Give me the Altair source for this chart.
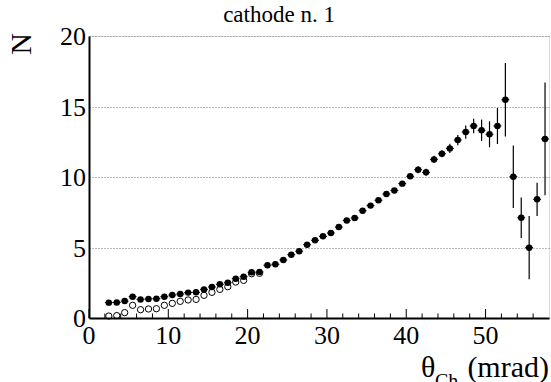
import altair as alt
import pandas as pd

# Bin centres of the Cherenkov-angle histogram (mrad)
theta = [2.5, 3.5, 4.5, 5.5, 6.5, 7.5, 8.5, 9.5, 10.5, 11.5, 12.5, 13.5, 14.5, 15.5,
         16.5, 17.5, 18.5, 19.5, 20.5, 21.5, 22.5, 23.5, 24.5, 25.5, 26.5, 27.5, 28.5,
         29.5, 30.5, 31.5, 32.5, 33.5, 34.5, 35.5, 36.5, 37.5, 38.5, 39.5, 40.5, 41.5,
         42.5, 43.5, 44.5, 45.5, 46.5, 47.5, 48.5, 49.5, 50.5, 51.5, 52.5, 53.5, 54.5,
         55.5, 56.5, 57.5]

# Photon counts per bin (filled markers)
counts = [1.09, 1.10, 1.20, 1.51, 1.32, 1.35, 1.37, 1.51, 1.63, 1.70, 1.80, 1.82, 2.03,
          2.20, 2.39, 2.50, 2.79, 2.93, 3.24, 3.26, 3.74, 3.81, 4.11, 4.49, 4.74, 5.20,
          5.51, 5.79, 6.03, 6.45, 6.92, 7.09, 7.61, 7.97, 8.35, 8.79, 9.05, 9.53, 10.05,
          10.52, 10.33, 11.25, 11.65, 12.03, 12.62, 13.19, 13.62, 13.31, 13.03, 13.62,
          15.48, 10.02, 7.11, 4.99, 8.42, 12.7]

# Statistical errors on the counts
errors = [0.08, 0.08, 0.08, 0.08, 0.08, 0.08, 0.08, 0.08, 0.08, 0.10, 0.10, 0.10, 0.10,
          0.10, 0.10, 0.10, 0.10, 0.10, 0.10, 0.12, 0.12, 0.12, 0.12, 0.12, 0.12, 0.12,
          0.12, 0.12, 0.12, 0.17, 0.17, 0.17, 0.17, 0.17, 0.17, 0.17, 0.17, 0.17, 0.17,
          0.25, 0.25, 0.25, 0.25, 0.32, 0.36, 0.47, 0.52, 0.76, 0.92, 1.28, 2.60, 2.22,
          1.44, 2.25, 1.18, 4.0]

# Background-subtracted counts in the low-angle bins (open markers)
theta_open = theta[:20]
counts_open = [0.14, 0.17, 0.38, 0.90, 0.59, 0.64, 0.66, 0.90, 1.04, 1.18, 1.28, 1.32,
               1.61, 1.82, 2.03, 2.22, 2.55, 2.67, 3.14, 3.17]

major_ticks = [0, 10, 20, 30, 40, 50]
minor_ticks = [2, 4, 6, 8, 12, 14, 16, 18, 22, 24, 26, 28, 32, 34, 36, 38, 42, 44, 46,
               48, 52, 54, 56]
y_ticks = [0, 5, 10, 15, 20]
half_bin = 0.5

W, H = 460, 282
SERIF = "Liberation Serif"

df = pd.DataFrame({"theta": theta, "n": counts, "err": errors})
df["lo"] = df["n"] - df["err"]
df["hi"] = df["n"] + df["err"]
df["xlo"] = df["theta"] - half_bin
df["xhi"] = df["theta"] + half_bin
df_open = pd.DataFrame({"theta": theta_open, "n": counts_open})

xs = alt.Scale(domain=[0, 58], nice=False, zero=False)
ys = alt.Scale(domain=[0, 20], nice=False, zero=False)

# Axes carry only the frame lines and the dotted grid; labels are drawn as text layers
xaxis = alt.Axis(values=major_ticks, title=None, tickSize=0, labels=False,
                 domainColor="black", domainWidth=2, grid=False)
yaxis = alt.Axis(values=y_ticks, title=None, tickSize=0, labels=False,
                 domainColor="black", domainWidth=2, grid=True,
                 gridColor="#777777", gridDash=[1, 2], gridWidth=1)

X = alt.X("theta:Q", scale=xs, axis=xaxis)
Y = alt.Y("n:Q", scale=ys, axis=yaxis)

yerr = alt.Chart(df).mark_rule(color="black", strokeWidth=1.2).encode(
    x=X, y=alt.Y("lo:Q", scale=ys, axis=yaxis), y2="hi:Q")
xerr = alt.Chart(df).mark_rule(color="black", strokeWidth=1).encode(
    x=alt.X("xlo:Q", scale=xs, axis=xaxis), x2="xhi:Q", y=Y)
open_pts = alt.Chart(df_open).mark_point(
    shape="circle", filled=False, color="black", strokeWidth=1, size=40, opacity=1
).encode(x=X, y=Y)
filled_pts = alt.Chart(df).mark_circle(color="black", size=42, opacity=1).encode(x=X, y=Y)

major = alt.Chart(pd.DataFrame({"theta": major_ticks})).mark_rule(
    color="black", strokeWidth=1).encode(x=X, y=alt.value(H), y2=alt.value(H - 9))
minor = alt.Chart(pd.DataFrame({"theta": minor_ticks})).mark_rule(
    color="black", strokeWidth=1).encode(x=X, y=alt.value(H), y2=alt.value(H - 4.5))

# Tick labels
xlabels = alt.Chart(pd.DataFrame({"theta": major_ticks, "lab": [str(v) for v in major_ticks]})
                    ).mark_text(font=SERIF, fontSize=26, color="black", align="center",
                                baseline="alphabetic", dy=26).encode(
    x=X, y=alt.value(H), text="lab:N")
ylabels = alt.Chart(pd.DataFrame({"n": y_ticks, "lab": [str(v) for v in y_ticks]})
                    ).mark_text(font=SERIF, fontSize=26, color="black", align="right",
                                baseline="alphabetic", dy=9).encode(
    x=alt.value(-3), y=Y, text="lab:N")

one = pd.DataFrame({"k": [0]})


def label(text, x, y, size, **kw):
    return alt.Chart(one).mark_text(
        text=text, font=SERIF, fontSize=size, color="black", **kw
    ).encode(x=alt.value(x), y=alt.value(y))


title = label("cathode n. 1", 190, -14, 23, align="center", baseline="alphabetic")
ylab = label("N", -67, 8, 30, align="center", baseline="middle", angle=270)
xlab_theta = label("θ", 332, 341, 30, align="left", baseline="alphabetic")
xlab_sub = label("Ch", 346, 352, 20, align="left", baseline="alphabetic")
xlab_unit = label("(mrad)", 460, 341, 30, align="right", baseline="alphabetic")

chart = alt.layer(
    yerr, xerr, open_pts, filled_pts, major, minor, xlabels, ylabels,
    title, ylab, xlab_theta, xlab_sub, xlab_unit
).properties(
    width=W, height=H,
    autosize=alt.AutoSizeParams(type="none"),
    padding={"left": 89, "top": 36, "right": 2, "bottom": 64},
).configure_view(
    stroke="black", strokeWidth=1, clip=False
).configure(background="white")

chart.save("out.html", embed_options={"renderer": "svg", "actions": False})
